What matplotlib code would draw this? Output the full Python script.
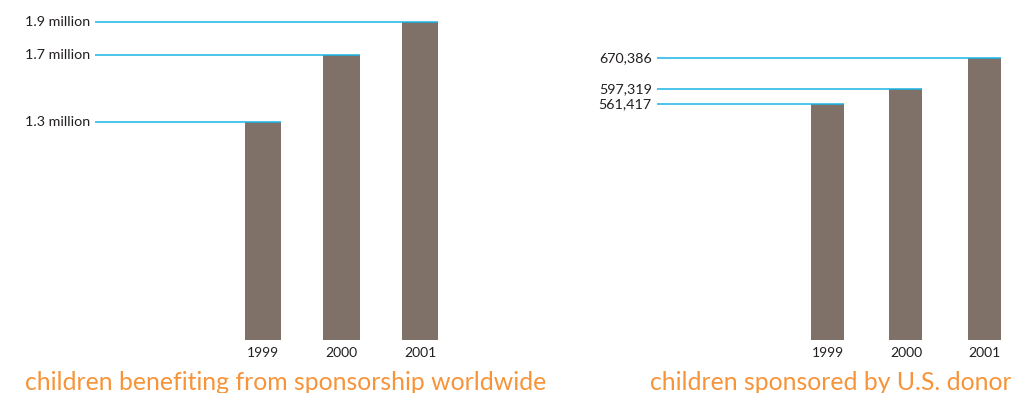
import matplotlib.pyplot as plt
import matplotlib.transforms as mtransforms

years = ['1999', '2000', '2001']
worldwide = [1.3, 1.7, 1.9]  # millions
worldwide_labels = ['1.3 million', '1.7 million', '1.9 million']
us_donor = [561417, 597319, 670386]
us_donor_labels = ['561,417', '597,319', '670,386']

bar_color = '#7f7068'
line_color = '#19b4e3'
orange = '#f7943a'
text_color = '#231f20'

plt.rcParams['font.family'] = ['Lato', 'DejaVu Sans']

W, H = 1012, 393
fig = plt.figure(figsize=(W / 100, H / 100), dpi=100)


def panel(px_left, px_right, xlim, ylim_top, width, values, labels, caption, cap_x):
    ax = fig.add_axes([px_left / W, 53 / H, (px_right - px_left) / W, 340 / H])
    ax.set_xlim(*xlim)
    ax.set_ylim(0, ylim_top)
    xs = range(len(values))
    ax.bar(xs, values, width=width, color=bar_color, zorder=2)
    trans = mtransforms.blended_transform_factory(ax.transAxes, ax.transData)
    for x, v, lab in zip(xs, values, labels):
        ax.hlines(v, xlim[0], x + width / 2, color=line_color, lw=1.1, zorder=3)
        ax.text(-0.015, v, lab, transform=trans, ha='right', va='center',
                fontsize=10.3, color=text_color)
    for x, y in zip(xs, years):
        ax.text(x, -ylim_top * 0.038, y, ha='center', va='center',
                fontsize=10, color=text_color, clip_on=False)
    ax.axis('off')
    fig.text(cap_x / W, 1 - 382 / H, caption, ha='left', va='center',
             fontsize=17.8, color=orange)


panel(95, 440, (-2.14, 2.255), 2.031, 0.46, worldwide, worldwide_labels,
      'children benefiting from sponsorship worldwide', 25)
panel(657, 1003, (-2.172, 2.236), 808200, 0.42, us_donor, us_donor_labels,
      'children sponsored by U.S. donor', 650)

fig.savefig('out.png', dpi=100)
